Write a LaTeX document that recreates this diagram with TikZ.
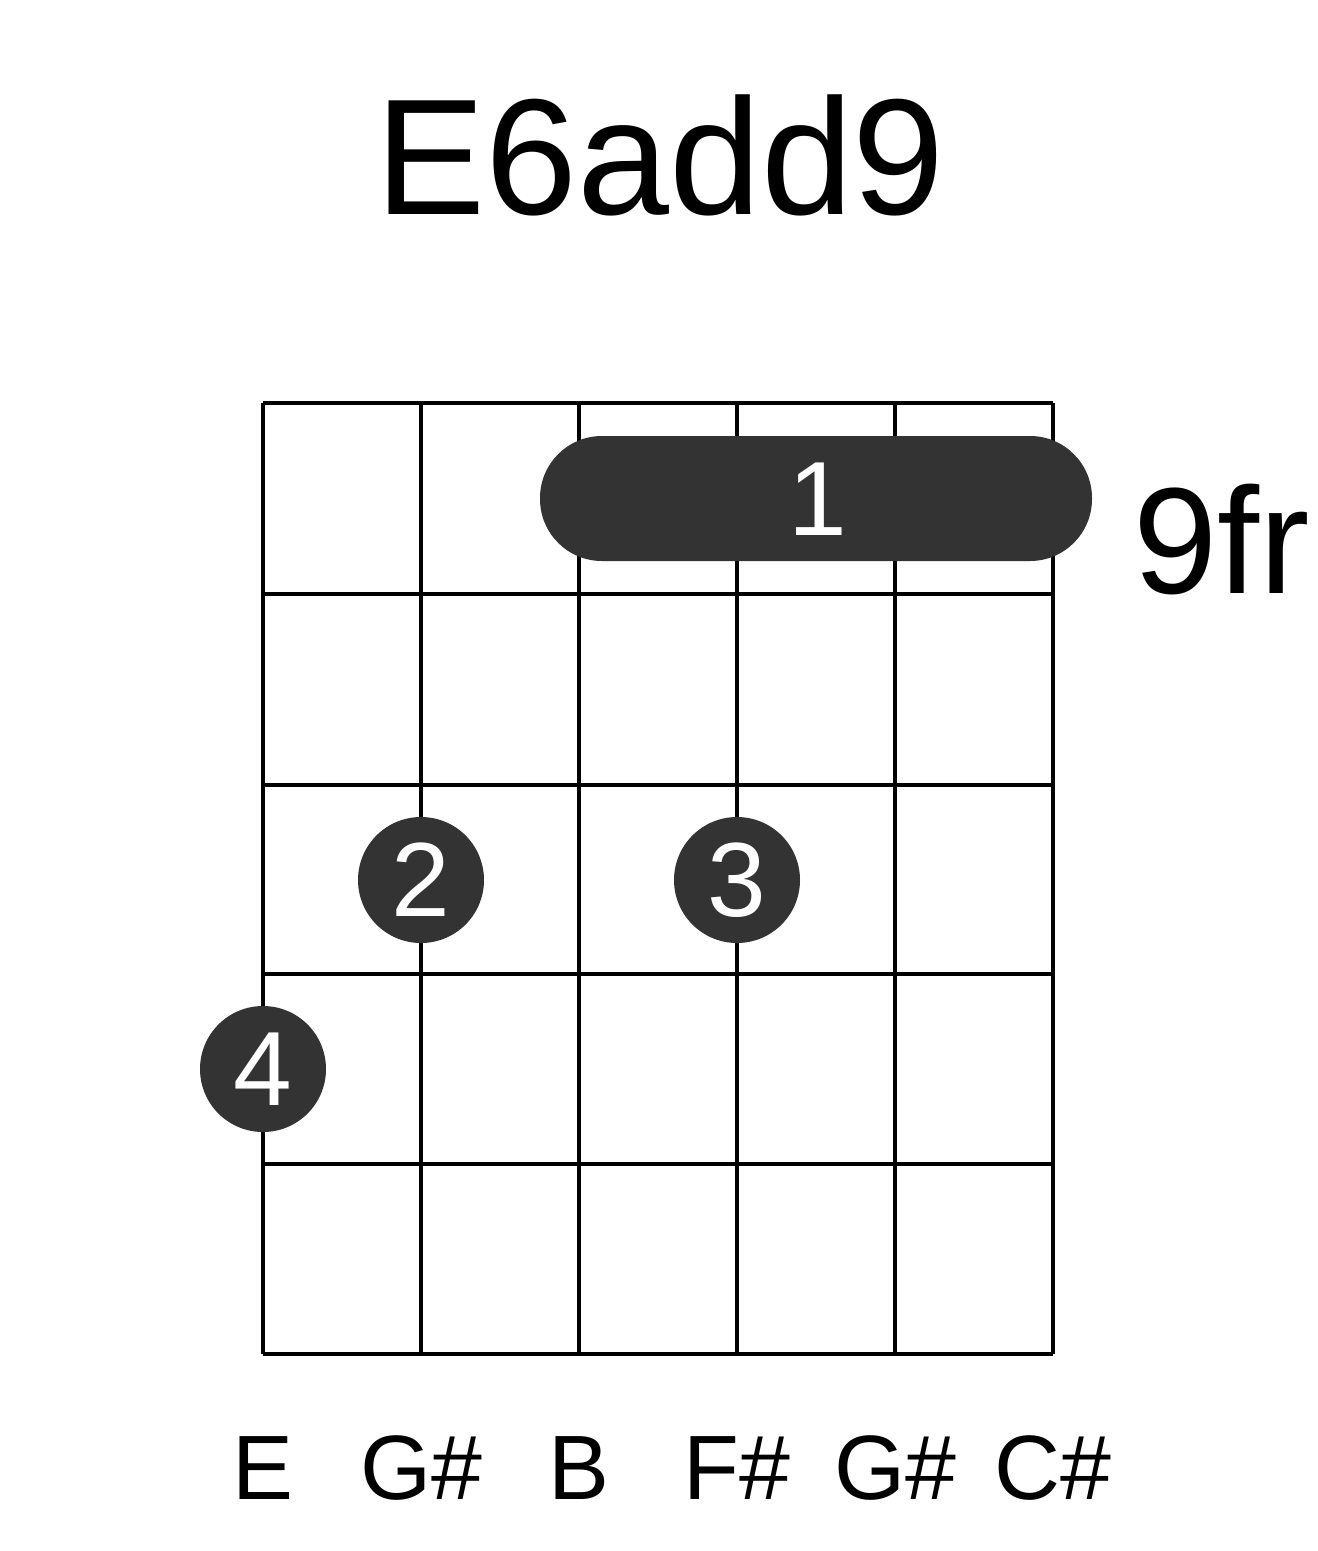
\documentclass[tikz,border=0pt]{standalone}
\usepackage{fontspec}
\setmainfont{Liberation Sans}
\usetikzlibrary{positioning}
\definecolor{dotgray}{HTML}{333333}
\newcommand{\un}{*0.01cm}
\tikzset{finger/.style={circle,fill=dotgray,minimum size=126\un,inner sep=0pt,text=white,font=\fontsize{30}{30}\selectfont},
  notename/.style={font=\fontsize{26}{26}\selectfont}}
\begin{document}
\begin{tikzpicture}[x=0.01cm,y=-0.01cm]
\useasboundingbox (0,0) rectangle (1317,1551);

\node[font=\fontsize{47}{47}\selectfont] (title) at (660,155) {E6add9};

% strings and frets
\foreach \x in {263,421,579,737,895,1053}
{
\draw[line width=4\un] (\x,403) -- (\x,1354);
}
\foreach \y in {403,594,785,974,1164,1354}
{
\draw[line width=4\un] (263,\y) -- (1053,\y);
}

% barre
\fill[dotgray,rounded corners=62\un] (540,436) rectangle (1092,561);
\node[text=white,font=\fontsize{30}{30}\selectfont] (barre) at (818,499) {1};
\node[font=\fontsize{43}{43}\selectfont] (fret) at (1222,540) {9fr};

\node[finger] (f2) at (421,880) {2};
\node[finger] (f3) at (737,880) {3};
\node[finger] (f4) at (263,1069) {4};

\node[notename] (n1) at (263,1468) {E};
\node[notename] (n2) at (421,1468) {G\#};
\node[notename] (n3) at (579,1468) {B};
\node[notename] (n4) at (737,1468) {F\#};
\node[notename] (n5) at (895,1468) {G\#};
\node[notename] (n6) at (1053,1468) {C\#};
\end{tikzpicture}
\end{document}
